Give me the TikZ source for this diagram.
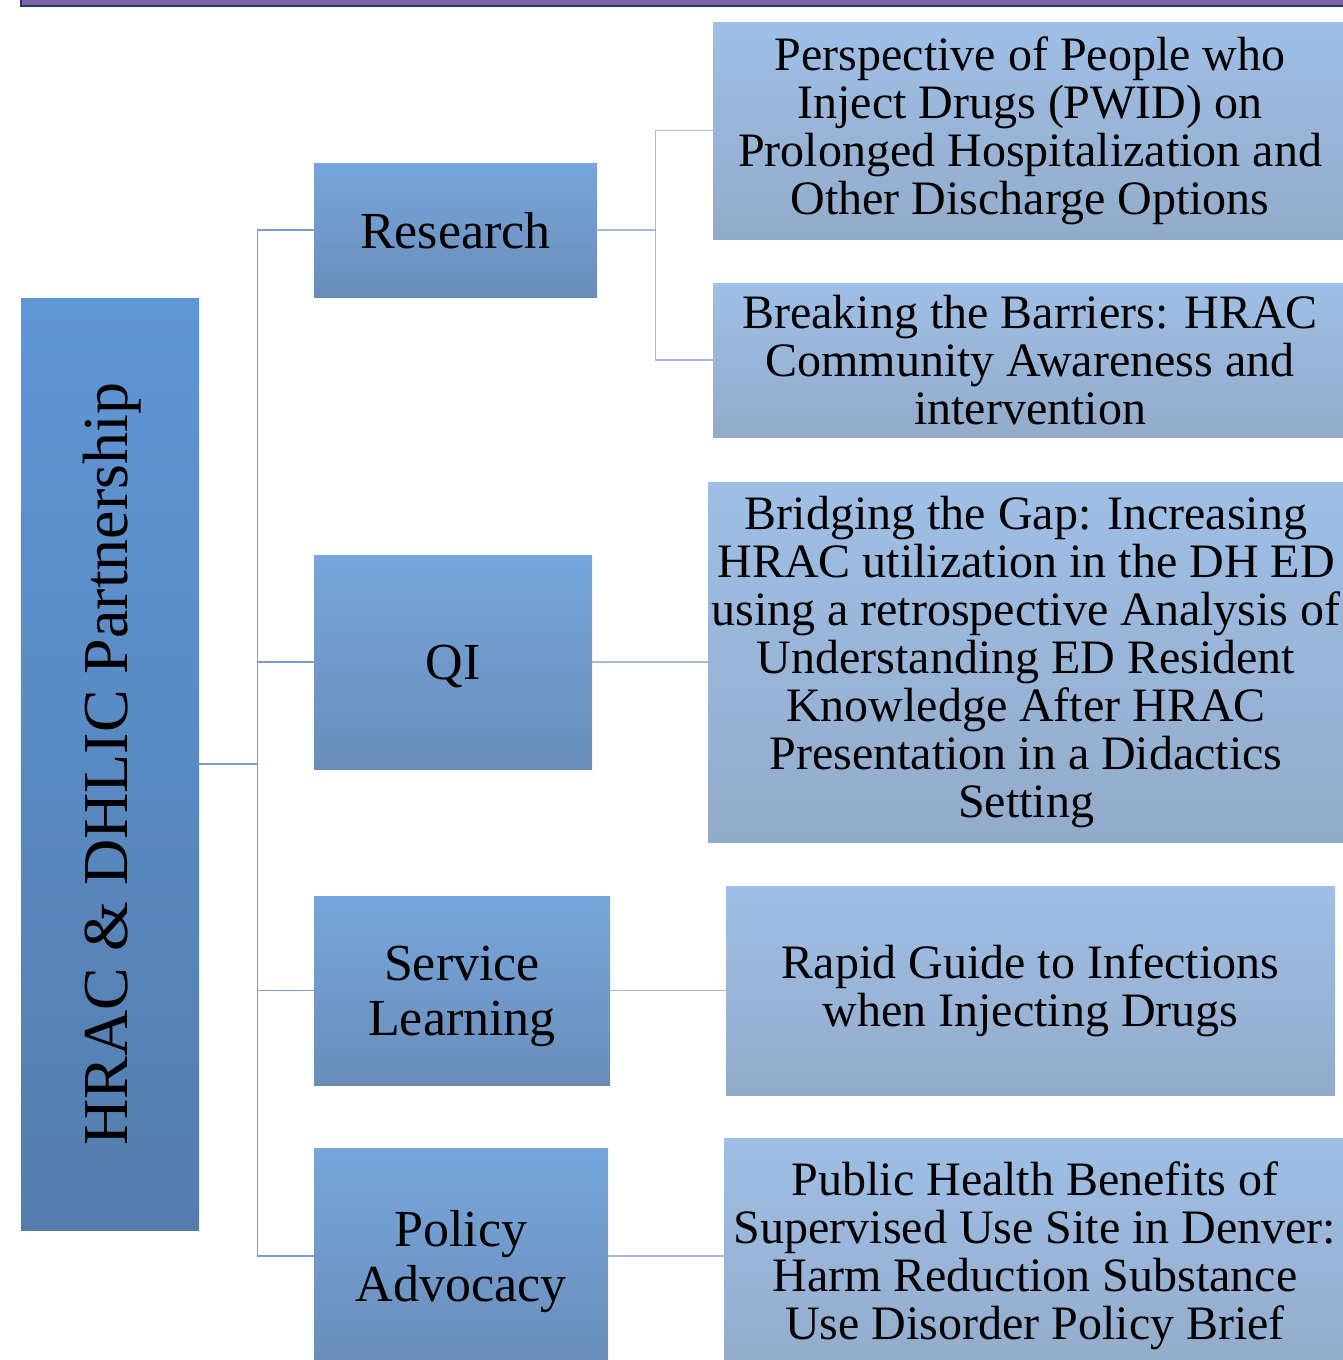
\documentclass[tikz,border=0pt]{standalone}
\usepackage{fontspec}
\setmainfont{Liberation Serif}
\usetikzlibrary{positioning,calc}
\definecolor{rootTop}{HTML}{5F96D6}
\definecolor{rootBot}{HTML}{547DAD}
\definecolor{catTop}{HTML}{76A6DC}
\definecolor{catBot}{HTML}{6A8DB8}
\definecolor{itemTop}{HTML}{9FBFE6}
\definecolor{itemBot}{HTML}{93ABCA}
\definecolor{linkBlue}{HTML}{7C9DD4}
\definecolor{linkPale}{HTML}{A6B9DC}
\definecolor{bandFill}{HTML}{8064A2}
\definecolor{bandEdge}{HTML}{1F3A6E}
\tikzset{
  rootbox/.style={top color=rootTop, bottom color=rootBot, inner sep=0pt},
  catbox/.style={top color=catTop, bottom color=catBot, inner sep=0pt, align=center,
    text depth=0pt, font=\fontsize{26}{27.5}\selectfont},
  itembox/.style={top color=itemTop, bottom color=itemBot, inner sep=0pt, align=center,
    font=\fontsize{24}{24}\selectfont},
  link/.style={draw=linkBlue, line width=0.8pt},
  sublink/.style={draw=linkPale, line width=0.8pt}
}

\begin{document}
\begin{tikzpicture}[x=0.5pt,y=-0.5pt]
\useasboundingbox (0,0) rectangle (1343,1360);
\clip (0,0) rectangle (1343,1360);
\draw[fill=bandFill, draw=bandEdge, line width=1pt] (21,-20) rectangle (1360,6);

% left column
\node[rootbox, minimum width=89pt, minimum height=466pt] (hrac) at (110,764) {};
\node[rotate=90, font=\fontsize{32}{38}\selectfont] (hracText) at ([xshift=1pt]hrac.center) {HRAC \& DHLIC Partnership};

% middle column
\node[catbox, minimum width=141.5pt, minimum height=67pt] (research) at (455.5,230) {Research};
\node[catbox, minimum width=139pt, minimum height=107pt] (qi) at (453,662) {QI};
\node[catbox, minimum width=148pt, minimum height=94.5pt] (service) at (462,990.5) {Service\\Learning};
\node[catbox, minimum width=147pt, minimum height=108pt] (policy) at (461,1256) {Policy\\Advocacy};

% right column
\node[itembox, minimum width=317pt, minimum height=108.5pt] (perspective) at (1030,130.5)
  {Perspective of People who\\Inject Drugs (PWID) on\\Prolonged Hospitalization and\\Other Discharge Options};
\node[itembox, minimum width=317pt, minimum height=77pt] (barriers) at (1030,360)
  {Breaking the Barriers: HRAC\\Community Awareness and\\intervention};
\node[itembox, minimum width=318pt, minimum height=180pt] (bridging) at (1026,662)
  {Bridging the Gap: Increasing\\HRAC utilization in the DH ED\\using a retrospective Analysis of\\Understanding ED Resident\\Knowledge After HRAC\\Presentation in a Didactics\\Setting};
\node[itembox, minimum width=304.5pt, minimum height=104.5pt] (rapid) at (1030.5,990.5)
  {Rapid Guide to Infections\\when Injecting Drugs};
\node[itembox, minimum width=311pt, minimum height=118pt] (supervised) at (1035,1256)
  {Public Health Benefits of\\Supervised Use Site in Denver:\\Harm Reduction Substance\\Use Disorder Policy Brief};

% connectors
\coordinate (bus) at ($(hrac.east)+(58,0)$);
\draw[link, line width=1pt] (hrac.east) -- (bus);
\draw[link] (research.west) -| (bus) |- (policy.west);
\draw[link] (qi.west) -- (qi.west -| bus);
\draw[link] (service.west) -- (service.west -| bus);

\coordinate (fork) at ($(research.east)+(58,0)$);
\draw[sublink] (research.east) -- (fork);
\draw[sublink] (perspective.west) -| (fork) |- (barriers.west);
\draw[sublink] (qi.east) -- (bridging.west);
\draw[sublink] (service.east) -- (rapid.west);
\draw[sublink] (policy.east) -- (supervised.west);
\end{tikzpicture}
\end{document}
